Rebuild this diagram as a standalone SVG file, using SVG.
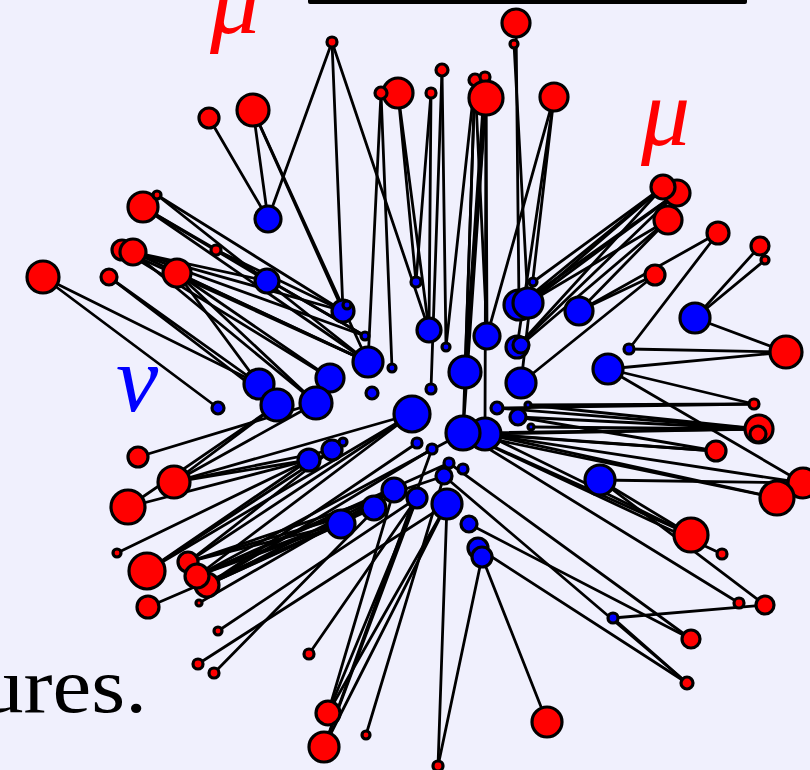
<svg xmlns="http://www.w3.org/2000/svg" width="810" height="770" viewBox="0 0 810 770">
<style>
.e{stroke:#000;stroke-width:2.8;stroke-linecap:round}
.r{fill:#f00;stroke:#000;stroke-width:3.2}
.b{fill:#00f;stroke:#000;stroke-width:3.2}
.lbl{font-family:"Liberation Serif","DejaVu Serif",serif;font-style:italic}
</style>
<rect width="810" height="770" fill="#f0f0fd"/>
<rect x="308" y="-6" width="439" height="10" rx="2" fill="#000"/>
<g id="connectors">
<line class="e" x1="332" y1="42" x2="268" y2="219"/>
<line class="e" x1="332" y1="42" x2="343" y2="311"/>
<line class="e" x1="332" y1="42" x2="429" y2="330"/>
<line class="e" x1="253" y1="110" x2="268" y2="219"/>
<line class="e" x1="253" y1="110" x2="368" y2="362"/>
<line class="e" x1="253" y1="110" x2="343" y2="311"/>
<line class="e" x1="209" y1="118" x2="268" y2="219"/>
<line class="e" x1="398" y1="93" x2="429" y2="330"/>
<line class="e" x1="398" y1="93" x2="416" y2="282"/>
<line class="e" x1="381" y1="93" x2="368" y2="362"/>
<line class="e" x1="381" y1="93" x2="392" y2="368"/>
<line class="e" x1="431" y1="93" x2="416" y2="282"/>
<line class="e" x1="431" y1="93" x2="429" y2="330"/>
<line class="e" x1="442" y1="70" x2="446" y2="347"/>
<line class="e" x1="442" y1="70" x2="431" y2="389"/>
<line class="e" x1="475" y1="80" x2="446" y2="347"/>
<line class="e" x1="475" y1="80" x2="463" y2="433"/>
<line class="e" x1="475" y1="80" x2="487" y2="336"/>
<line class="e" x1="475" y1="80" x2="465" y2="372"/>
<line class="e" x1="486" y1="98" x2="465" y2="372"/>
<line class="e" x1="486" y1="98" x2="487" y2="336"/>
<line class="e" x1="486" y1="98" x2="463" y2="433"/>
<line class="e" x1="486" y1="98" x2="485" y2="434"/>
<line class="e" x1="485" y1="77" x2="465" y2="372"/>
<line class="e" x1="516" y1="23" x2="519" y2="305"/>
<line class="e" x1="514" y1="44" x2="528" y2="303"/>
<line class="e" x1="554" y1="97" x2="521" y2="383"/>
<line class="e" x1="554" y1="97" x2="517" y2="347"/>
<line class="e" x1="554" y1="97" x2="487" y2="336"/>
<line class="e" x1="143" y1="207" x2="267" y2="281"/>
<line class="e" x1="143" y1="207" x2="365" y2="336"/>
<line class="e" x1="157" y1="195" x2="343" y2="311"/>
<line class="e" x1="157" y1="195" x2="368" y2="362"/>
<line class="e" x1="143" y1="207" x2="368" y2="362"/>
<line class="e" x1="133" y1="252" x2="267" y2="281"/>
<line class="e" x1="133" y1="252" x2="343" y2="311"/>
<line class="e" x1="133" y1="252" x2="368" y2="362"/>
<line class="e" x1="133" y1="252" x2="365" y2="336"/>
<line class="e" x1="122" y1="250" x2="330" y2="378"/>
<line class="e" x1="122" y1="250" x2="368" y2="362"/>
<line class="e" x1="177" y1="273" x2="368" y2="362"/>
<line class="e" x1="177" y1="273" x2="330" y2="378"/>
<line class="e" x1="177" y1="273" x2="316" y2="403"/>
<line class="e" x1="216" y1="250" x2="343" y2="311"/>
<line class="e" x1="216" y1="250" x2="365" y2="336"/>
<line class="e" x1="43" y1="277" x2="259" y2="384"/>
<line class="e" x1="43" y1="277" x2="218" y2="408"/>
<line class="e" x1="109" y1="277" x2="259" y2="384"/>
<line class="e" x1="109" y1="277" x2="277" y2="405"/>
<line class="e" x1="177" y1="273" x2="259" y2="384"/>
<line class="e" x1="133" y1="252" x2="316" y2="403"/>
<line class="e" x1="138" y1="457" x2="316" y2="403"/>
<line class="e" x1="174" y1="482" x2="277" y2="405"/>
<line class="e" x1="174" y1="482" x2="316" y2="403"/>
<line class="e" x1="174" y1="482" x2="412" y2="414"/>
<line class="e" x1="174" y1="482" x2="332" y2="450"/>
<line class="e" x1="174" y1="482" x2="309" y2="460"/>
<line class="e" x1="128" y1="507" x2="277" y2="405"/>
<line class="e" x1="128" y1="507" x2="309" y2="460"/>
<line class="e" x1="117" y1="553" x2="309" y2="460"/>
<line class="e" x1="147" y1="571" x2="412" y2="414"/>
<line class="e" x1="147" y1="571" x2="332" y2="450"/>
<line class="e" x1="147" y1="571" x2="309" y2="460"/>
<line class="e" x1="188" y1="562" x2="332" y2="450"/>
<line class="e" x1="188" y1="562" x2="341" y2="524"/>
<line class="e" x1="188" y1="562" x2="412" y2="414"/>
<line class="e" x1="188" y1="562" x2="444" y2="476"/>
<line class="e" x1="188" y1="562" x2="374" y2="508"/>
<line class="e" x1="197" y1="576" x2="341" y2="524"/>
<line class="e" x1="197" y1="576" x2="374" y2="508"/>
<line class="e" x1="197" y1="576" x2="394" y2="490"/>
<line class="e" x1="197" y1="576" x2="463" y2="433"/>
<line class="e" x1="197" y1="576" x2="449" y2="463"/>
<line class="e" x1="197" y1="576" x2="412" y2="414"/>
<line class="e" x1="207" y1="585" x2="341" y2="524"/>
<line class="e" x1="207" y1="585" x2="374" y2="508"/>
<line class="e" x1="207" y1="585" x2="394" y2="490"/>
<line class="e" x1="207" y1="585" x2="417" y2="443"/>
<line class="e" x1="207" y1="585" x2="432" y2="449"/>
<line class="e" x1="148" y1="607" x2="341" y2="524"/>
<line class="e" x1="199" y1="603" x2="394" y2="490"/>
<line class="e" x1="218" y1="631" x2="417" y2="498"/>
<line class="e" x1="198" y1="664" x2="447" y2="504"/>
<line class="e" x1="214" y1="673" x2="394" y2="490"/>
<line class="e" x1="309" y1="654" x2="417" y2="498"/>
<line class="e" x1="328" y1="713" x2="417" y2="498"/>
<line class="e" x1="328" y1="713" x2="394" y2="490"/>
<line class="e" x1="328" y1="713" x2="447" y2="504"/>
<line class="e" x1="324" y1="747" x2="417" y2="498"/>
<line class="e" x1="324" y1="747" x2="447" y2="504"/>
<line class="e" x1="324" y1="747" x2="432" y2="449"/>
<line class="e" x1="366" y1="735" x2="444" y2="476"/>
<line class="e" x1="438" y1="766" x2="447" y2="504"/>
<line class="e" x1="438" y1="766" x2="482" y2="557"/>
<line class="e" x1="547" y1="722" x2="482" y2="557"/>
<line class="e" x1="663" y1="187" x2="519" y2="305"/>
<line class="e" x1="663" y1="187" x2="528" y2="303"/>
<line class="e" x1="663" y1="187" x2="517" y2="347"/>
<line class="e" x1="677" y1="193" x2="519" y2="305"/>
<line class="e" x1="677" y1="193" x2="528" y2="303"/>
<line class="e" x1="677" y1="193" x2="517" y2="347"/>
<line class="e" x1="668" y1="220" x2="528" y2="303"/>
<line class="e" x1="668" y1="220" x2="521" y2="345"/>
<line class="e" x1="668" y1="220" x2="579" y2="311"/>
<line class="e" x1="663" y1="187" x2="533" y2="282"/>
<line class="e" x1="718" y1="233" x2="579" y2="311"/>
<line class="e" x1="718" y1="233" x2="629" y2="349"/>
<line class="e" x1="760" y1="246" x2="695" y2="318"/>
<line class="e" x1="765" y1="260" x2="695" y2="318"/>
<line class="e" x1="655" y1="275" x2="579" y2="311"/>
<line class="e" x1="655" y1="275" x2="521" y2="383"/>
<line class="e" x1="786" y1="352" x2="695" y2="318"/>
<line class="e" x1="786" y1="352" x2="629" y2="349"/>
<line class="e" x1="786" y1="352" x2="608" y2="369"/>
<line class="e" x1="754" y1="404" x2="608" y2="369"/>
<line class="e" x1="803" y1="483" x2="608" y2="369"/>
<line class="e" x1="754" y1="404" x2="528" y2="405"/>
<line class="e" x1="754" y1="404" x2="497" y2="408"/>
<line class="e" x1="759" y1="429" x2="497" y2="408"/>
<line class="e" x1="759" y1="429" x2="518" y2="417"/>
<line class="e" x1="759" y1="429" x2="528" y2="405"/>
<line class="e" x1="759" y1="429" x2="531" y2="427"/>
<line class="e" x1="759" y1="429" x2="485" y2="434"/>
<line class="e" x1="759" y1="429" x2="463" y2="433"/>
<line class="e" x1="716" y1="451" x2="485" y2="434"/>
<line class="e" x1="716" y1="451" x2="463" y2="433"/>
<line class="e" x1="716" y1="451" x2="518" y2="417"/>
<line class="e" x1="803" y1="483" x2="485" y2="434"/>
<line class="e" x1="777" y1="498" x2="485" y2="434"/>
<line class="e" x1="777" y1="498" x2="463" y2="433"/>
<line class="e" x1="803" y1="483" x2="600" y2="480"/>
<line class="e" x1="691" y1="535" x2="485" y2="434"/>
<line class="e" x1="691" y1="535" x2="463" y2="433"/>
<line class="e" x1="722" y1="554" x2="463" y2="433"/>
<line class="e" x1="691" y1="535" x2="600" y2="480"/>
<line class="e" x1="765" y1="605" x2="600" y2="480"/>
<line class="e" x1="739" y1="603" x2="463" y2="433"/>
<line class="e" x1="765" y1="605" x2="613" y2="618"/>
<line class="e" x1="687" y1="683" x2="613" y2="618"/>
<line class="e" x1="691" y1="639" x2="449" y2="463"/>
<line class="e" x1="691" y1="639" x2="469" y2="524"/>
<line class="e" x1="687" y1="683" x2="444" y2="476"/>
<line class="e" x1="687" y1="683" x2="478" y2="548"/>
</g>
<g id="r-top1"><circle class="r" cx="516" cy="23" r="14"/></g>
<g id="r-top2"><circle class="r" cx="514" cy="44" r="4"/></g>
<g id="r-top3"><circle class="r" cx="332" cy="42" r="5"/></g>
<g id="r-top4"><circle class="r" cx="442" cy="70" r="6"/></g>
<g id="r-top5"><circle class="r" cx="398" cy="93" r="15"/></g>
<g id="r-top6"><circle class="r" cx="381" cy="93" r="6"/></g>
<g id="r-top7"><circle class="r" cx="431" cy="93" r="5"/></g>
<g id="r-top9"><circle class="r" cx="475" cy="80" r="6"/></g>
<g id="r-top10"><circle class="r" cx="485" cy="77" r="5"/></g>
<g id="r-top8"><circle class="r" cx="486" cy="98" r="17"/></g>
<g id="r-top11"><circle class="r" cx="554" cy="97" r="14"/></g>
<g id="r-tl1"><circle class="r" cx="253" cy="110" r="16"/></g>
<g id="r-tl2"><circle class="r" cx="209" cy="118" r="10"/></g>
<g id="r-tl3"><circle class="r" cx="143" cy="207" r="15"/></g>
<g id="r-tl4"><circle class="r" cx="157" cy="195" r="4"/></g>
<g id="r-tl5"><circle class="r" cx="216" cy="250" r="5"/></g>
<g id="r-tl6"><circle class="r" cx="122" cy="250" r="10"/></g>
<g id="r-tl7"><circle class="r" cx="133" cy="252" r="13"/></g>
<g id="r-tl8"><circle class="r" cx="177" cy="273" r="14"/></g>
<g id="r-tl9"><circle class="r" cx="109" cy="277" r="8"/></g>
<g id="r-tl10"><circle class="r" cx="43" cy="277" r="16"/></g>
<g id="r-tr2"><circle class="r" cx="677" cy="193" r="13"/></g>
<g id="r-tr1"><circle class="r" cx="663" cy="187" r="12"/></g>
<g id="r-tr3"><circle class="r" cx="668" cy="220" r="14"/></g>
<g id="r-tr4"><circle class="r" cx="718" cy="233" r="11"/></g>
<g id="r-tr5"><circle class="r" cx="760" cy="246" r="9"/></g>
<g id="r-tr6"><circle class="r" cx="765" cy="260" r="4"/></g>
<g id="r-tr7"><circle class="r" cx="655" cy="275" r="10"/></g>
<g id="r-rt1"><circle class="r" cx="786" cy="352" r="16"/></g>
<g id="r-rt2"><circle class="r" cx="754" cy="404" r="5"/></g>
<g id="r-rt3"><circle class="r" cx="759" cy="429" r="14"/></g>
<g id="r-rt4"><circle class="r" cx="758" cy="434" r="8"/></g>
<g id="r-rt5"><circle class="r" cx="716" cy="451" r="10"/></g>
<g id="r-rt6"><circle class="r" cx="803" cy="483" r="15"/></g>
<g id="r-rt7"><circle class="r" cx="777" cy="498" r="17"/></g>
<g id="r-rb1"><circle class="r" cx="691" cy="535" r="17"/></g>
<g id="r-rb2"><circle class="r" cx="722" cy="554" r="5"/></g>
<g id="r-rb3"><circle class="r" cx="739" cy="603" r="5"/></g>
<g id="r-rb4"><circle class="r" cx="765" cy="605" r="9"/></g>
<g id="r-rb5"><circle class="r" cx="691" cy="639" r="9"/></g>
<g id="r-rb6"><circle class="r" cx="687" cy="683" r="6"/></g>
<g id="r-rb7"><circle class="r" cx="547" cy="722" r="15"/></g>
<g id="r-bt1"><circle class="r" cx="309" cy="654" r="5"/></g>
<g id="r-bt2"><circle class="r" cx="328" cy="713" r="12"/></g>
<g id="r-bt3"><circle class="r" cx="324" cy="747" r="15"/></g>
<g id="r-bt4"><circle class="r" cx="366" cy="735" r="4"/></g>
<g id="r-bt5"><circle class="r" cx="438" cy="766" r="5"/></g>
<g id="r-lb1"><circle class="r" cx="138" cy="457" r="10"/></g>
<g id="r-lb2"><circle class="r" cx="174" cy="482" r="16"/></g>
<g id="r-lb3"><circle class="r" cx="128" cy="507" r="17"/></g>
<g id="r-lb4"><circle class="r" cx="117" cy="553" r="4"/></g>
<g id="r-lb5"><circle class="r" cx="147" cy="571" r="18"/></g>
<g id="r-lb6"><circle class="r" cx="188" cy="562" r="10"/></g>
<g id="r-lb8"><circle class="r" cx="207" cy="585" r="12"/></g>
<g id="r-lb7"><circle class="r" cx="197" cy="576" r="12"/></g>
<g id="r-lb9"><circle class="r" cx="199" cy="603" r="3"/></g>
<g id="r-lb10"><circle class="r" cx="148" cy="607" r="11"/></g>
<g id="r-lb11"><circle class="r" cx="218" cy="631" r="4"/></g>
<g id="r-lb12"><circle class="r" cx="198" cy="664" r="5"/></g>
<g id="r-lb13"><circle class="r" cx="214" cy="673" r="5"/></g>
<g id="b1"><circle class="b" cx="268" cy="219" r="13"/></g>
<g id="b2"><circle class="b" cx="267" cy="281" r="12"/></g>
<g id="b3"><circle class="b" cx="343" cy="311" r="11"/></g>
<g id="b3s"><circle class="b" cx="347" cy="305" r="4"/></g>
<g id="b4"><circle class="b" cx="365" cy="336" r="4"/></g>
<g id="b5"><circle class="b" cx="368" cy="362" r="15"/></g>
<g id="b6"><circle class="b" cx="392" cy="368" r="4"/></g>
<g id="b7"><circle class="b" cx="330" cy="378" r="14"/></g>
<g id="b10"><circle class="b" cx="259" cy="384" r="15"/></g>
<g id="b9"><circle class="b" cx="277" cy="405" r="16"/></g>
<g id="b8"><circle class="b" cx="316" cy="403" r="16"/></g>
<g id="b11"><circle class="b" cx="218" cy="408" r="6"/></g>
<g id="b12"><circle class="b" cx="372" cy="393" r="6"/></g>
<g id="b13"><circle class="b" cx="412" cy="414" r="18"/></g>
<g id="b14"><circle class="b" cx="431" cy="389" r="5"/></g>
<g id="b15"><circle class="b" cx="416" cy="282" r="5"/></g>
<g id="b16"><circle class="b" cx="429" cy="330" r="12"/></g>
<g id="b17"><circle class="b" cx="446" cy="347" r="4"/></g>
<g id="b18"><circle class="b" cx="465" cy="372" r="16"/></g>
<g id="b19"><circle class="b" cx="487" cy="336" r="13"/></g>
<g id="b20"><circle class="b" cx="519" cy="305" r="15"/></g>
<g id="b21"><circle class="b" cx="528" cy="303" r="15"/></g>
<g id="b22"><circle class="b" cx="533" cy="282" r="4"/></g>
<g id="b23"><circle class="b" cx="517" cy="347" r="11"/></g>
<g id="b24"><circle class="b" cx="521" cy="345" r="8"/></g>
<g id="b25"><circle class="b" cx="521" cy="383" r="15"/></g>
<g id="b26"><circle class="b" cx="485" cy="434" r="16"/></g>
<g id="b27"><circle class="b" cx="463" cy="433" r="17"/></g>
<g id="b28"><circle class="b" cx="497" cy="408" r="6"/></g>
<g id="b29"><circle class="b" cx="518" cy="417" r="8"/></g>
<g id="b30"><circle class="b" cx="528" cy="405" r="3"/></g>
<g id="b31"><circle class="b" cx="531" cy="427" r="3"/></g>
<g id="b32"><circle class="b" cx="417" cy="443" r="5"/></g>
<g id="b33"><circle class="b" cx="432" cy="449" r="5"/></g>
<g id="b34"><circle class="b" cx="449" cy="463" r="5"/></g>
<g id="b35"><circle class="b" cx="444" cy="476" r="8"/></g>
<g id="b36"><circle class="b" cx="463" cy="469" r="5"/></g>
<g id="b37"><circle class="b" cx="332" cy="450" r="10"/></g>
<g id="b38"><circle class="b" cx="343" cy="442" r="4"/></g>
<g id="b39"><circle class="b" cx="309" cy="460" r="11"/></g>
<g id="b40"><circle class="b" cx="394" cy="490" r="12"/></g>
<g id="b41"><circle class="b" cx="417" cy="498" r="10"/></g>
<g id="b42"><circle class="b" cx="447" cy="504" r="15"/></g>
<g id="b43"><circle class="b" cx="374" cy="508" r="12"/></g>
<g id="b44"><circle class="b" cx="341" cy="524" r="14"/></g>
<g id="b45"><circle class="b" cx="469" cy="524" r="8"/></g>
<g id="b46"><circle class="b" cx="478" cy="548" r="10"/></g>
<g id="b47"><circle class="b" cx="482" cy="557" r="10"/></g>
<g id="b48"><circle class="b" cx="600" cy="480" r="15"/></g>
<g id="b49"><circle class="b" cx="608" cy="369" r="15"/></g>
<g id="b50"><circle class="b" cx="695" cy="318" r="15"/></g>
<g id="b51"><circle class="b" cx="629" cy="349" r="5"/></g>
<g id="b52"><circle class="b" cx="579" cy="311" r="14"/></g>
<g id="b53"><circle class="b" cx="613" cy="618" r="5"/></g>
<text class="lbl" x="210" y="33" font-size="100" fill="#f00">μ</text>
<text class="lbl" x="641" y="145" font-size="98" fill="#f00">μ</text>
<text class="lbl" x="116" y="411" font-size="95" fill="#00f">ν</text>
<text x="-20" y="712" font-size="79" textLength="167" lengthAdjust="spacingAndGlyphs" font-family="Liberation Serif, serif" fill="#000">ures.</text>
</svg>
